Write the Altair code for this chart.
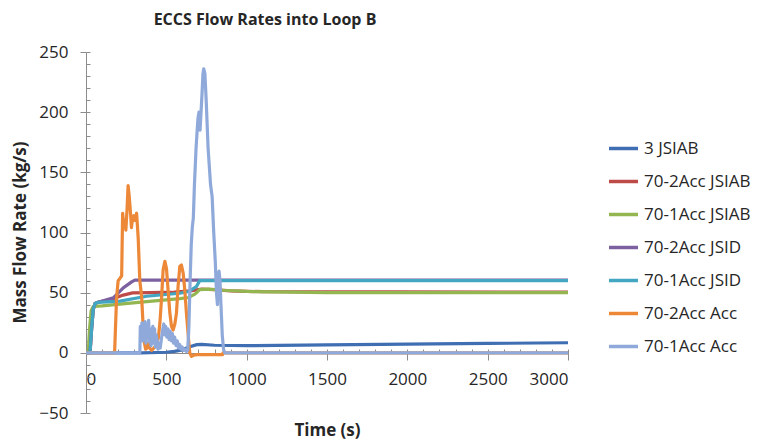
import altair as alt
import pandas as pd

# ---- data ----
series_names = ["3 JSIAB", "70-2Acc JSIAB", "70-1Acc JSIAB", "70-2Acc JSID",
                "70-1Acc JSID", "70-2Acc Acc", "70-1Acc Acc"]
series_colors = ["#3F6EB3", "#BE4B48", "#93B650", "#7D60A0",
                 "#43A7C2", "#EC8837", "#8FAADA"]

t_3jsiab = [0, 346, 500, 550, 600, 646, 690, 720, 800, 1000, 1500, 2000, 2500, 3000]
v_3jsiab = [0, 0, 0.5, 1.2, 2.5, 5, 6.8, 7, 6.3, 6, 6.6, 7.2, 7.8, 8.4]

t_2acc_jsiab = [0, 25, 35, 45, 56, 75, 170, 232, 290, 400, 550, 650, 720, 800, 900, 1100, 3000]
v_2acc_jsiab = [0, 0, 20, 36, 41, 42, 45, 48, 49.8, 50, 50.5, 51.5, 53, 52.5, 51.5, 50.8, 50.5]

t_1acc_jsiab = [0, 14, 22, 32, 45, 100, 211, 377, 584, 640, 680, 708, 760, 850, 1000, 1500, 3000]
v_1acc_jsiab = [0, 0, 20, 35, 38.5, 39, 40.5, 42.5, 45, 46, 49, 52.5, 53, 52, 51, 50, 50]

t_2acc_jsid = [0, 25, 35, 45, 56, 75, 170, 232, 284, 304, 3000]
v_2acc_jsid = [0, 0, 20, 36, 41, 42, 45.7, 54, 59, 60.5, 60.5]

t_1acc_jsid = [0, 25, 35, 45, 56, 75, 211, 377, 584, 640, 687, 708, 3000]
v_1acc_jsid = [0, 0, 20, 36, 41, 42, 43, 47, 49.5, 51, 55, 60, 60]

t_2acc_acc = [0, 178, 190, 200, 212, 222, 228, 236, 241, 248, 255, 262, 269, 276, 283,
              290, 297, 304, 315, 325, 335, 346, 360, 371, 380, 387, 397, 408, 430, 450,
              460, 470, 480, 491, 501, 512, 522, 532, 542, 553, 563, 573, 584, 594, 605,
              615, 625, 636, 646, 656, 670, 690, 850, 853, 3000]
v_2acc_acc = [0, 0, 45, 60, 62, 64, 116, 105, 110, 102, 118, 139, 130, 118, 104,
              112, 114, 110, 116, 95, 60, 47, 11, 3, 4, 8, 4, 2, 5, 12,
              25, 45, 69, 76, 70, 50, 33, 22, 19, 24, 33, 55, 72, 73, 66,
              52, 33, 15, 0, -3, -2, -1.5, -1.5, 0, 0]

t_1acc_acc = [0, 335, 338, 343, 348, 353, 358, 363, 368, 373, 378, 384, 390, 395, 400,
              405, 410, 416, 421, 427, 432, 437, 443, 448, 455, 462, 470, 477, 484, 490,
              496, 503, 510, 517, 524, 531, 538, 545, 552, 560, 568, 575, 583, 590, 598,
              606, 615, 625, 633, 640, 648, 655, 662, 668, 675, 685, 692, 697, 703, 710,
              716, 722, 728, 733, 740, 748, 760, 775, 785, 795, 805, 812, 818, 822, 828,
              834, 840, 848, 856, 863, 3000]
v_1acc_acc = [0, 0, 22, 14, 25, 10, 24, 12, 26, 8, 22, 16, 27, 9, 20,
              6, 18, 22, 8, 20, 5, 15, 10, 3, 8, 4, 12, 19, 24, 15,
              22, 13, 20, 11, 18, 10, 16, 8, 13, 6, 10, 4, 7, 3, 5,
              2, 3, 1, 2, 20, 60, 90, 105, 112, 140, 170, 185, 195, 200, 185,
              200, 215, 232, 236, 232, 210, 170, 140, 130, 100, 75, 50, 40, 55, 68,
              60, 40, 15, 3, 0, 0]

x_ticks = [0, 500, 1000, 1500, 2000, 2500, 3000]
y_ticks = [-50, 0, 50, 100, 150, 200, 250]
x_minor = list(range(0, 3001, 100))
y_minor = list(range(-50, 251, 10))

all_t = [t_3jsiab, t_2acc_jsiab, t_1acc_jsiab, t_2acc_jsid, t_1acc_jsid, t_2acc_acc, t_1acc_acc]
all_v = [v_3jsiab, v_2acc_jsiab, v_1acc_jsiab, v_2acc_jsid, v_1acc_jsid, v_2acc_acc, v_1acc_acc]

rows = []
for k, (name, ts, vs) in enumerate(zip(series_names, all_t, all_v)):
    for i, (t, v) in enumerate(zip(ts, vs)):
        rows.append({"series": name, "sid": k, "i": i, "t": t, "v": v})
df = pd.DataFrame(rows)

FONT = "Open Sans"
TXT = "#262626"
AX = "#8C8C8C"

x_scale = alt.Scale(domain=[0, 3000], nice=False, zero=False)
y_scale = alt.Scale(domain=[-50, 250], nice=False, zero=False)

lines = alt.Chart(df).mark_line(strokeWidth=3.2, strokeJoin="round").encode(
    x=alt.X("t:Q", scale=x_scale,
            axis=alt.Axis(orient="bottom", values=x_ticks, format="d", offset=-60,
                          title="Time (s)",
                          tickSize=7, labelPadding=11, grid=False,
                          domainColor=AX, tickColor=AX, labelColor=TXT, titleColor=TXT,
                          labelFont=FONT, labelFontSize=17, titleFont=FONT,
                          titleFontSize=17, titleFontWeight="bold",
                          titleY=77, titleBaseline="middle")),
    y=alt.Y("v:Q", scale=y_scale,
            axis=alt.Axis(orient="left", values=y_ticks, format="d",
                          title="Mass Flow Rate (kg/s)",
                          tickSize=6, labelPadding=12, grid=False,
                          domainColor=AX, tickColor=AX, labelColor=TXT, titleColor=TXT,
                          labelFont=FONT, labelFontSize=17, titleFont=FONT,
                          titleFontSize=17, titleFontWeight="bold",
                          titleX=-66, titleY=180, titleBaseline="middle",
                          titleAlign="center", titleAngle=270)),
    color=alt.Color("series:N",
                    scale=alt.Scale(domain=series_names, range=series_colors),
                    sort=series_names,
                    legend=alt.Legend(title=None, orient="none", legendX=521, legendY=80,
                                      symbolType="stroke", symbolSize=841,
                                      symbolStrokeWidth=3.5, rowPadding=8,
                                      labelOffset=4, labelFont=FONT, labelFontSize=17,
                                      labelColor=TXT, labelLimit=300)),
    order=alt.Order("i:Q"),
    detail="sid:N",
)

minor = alt.Chart(df).mark_line(opacity=0).encode(
    x=alt.X("t:Q", scale=x_scale,
            axis=alt.Axis(orient="top", values=x_minor, offset=-301, labels=False,
                          domain=False, tickSize=4, tickColor=AX, grid=False, title=None)),
    y=alt.Y("v:Q", scale=y_scale,
            axis=alt.Axis(orient="right", values=y_minor, offset=-482, labels=False,
                          domain=False, tickSize=4, tickColor=AX, grid=False, title=None)),
    detail="sid:N",
)

chart = alt.layer(minor, lines).resolve_axis(x="independent", y="independent").properties(
    width=482,
    height=361,
    autosize=alt.AutoSizeParams(type="none"),
    padding={"left": 78, "top": 44, "right": 183, "bottom": 26},
    title=alt.TitleParams("ECCS Flow Rates into Loop B", font=FONT, fontSize=16,
                          fontWeight="bold", color=TXT, anchor="middle", dx=-62,
                          offset=15),
).configure_view(stroke=None)

chart.save("out.html", embed_options={"renderer": "svg", "actions": False})
